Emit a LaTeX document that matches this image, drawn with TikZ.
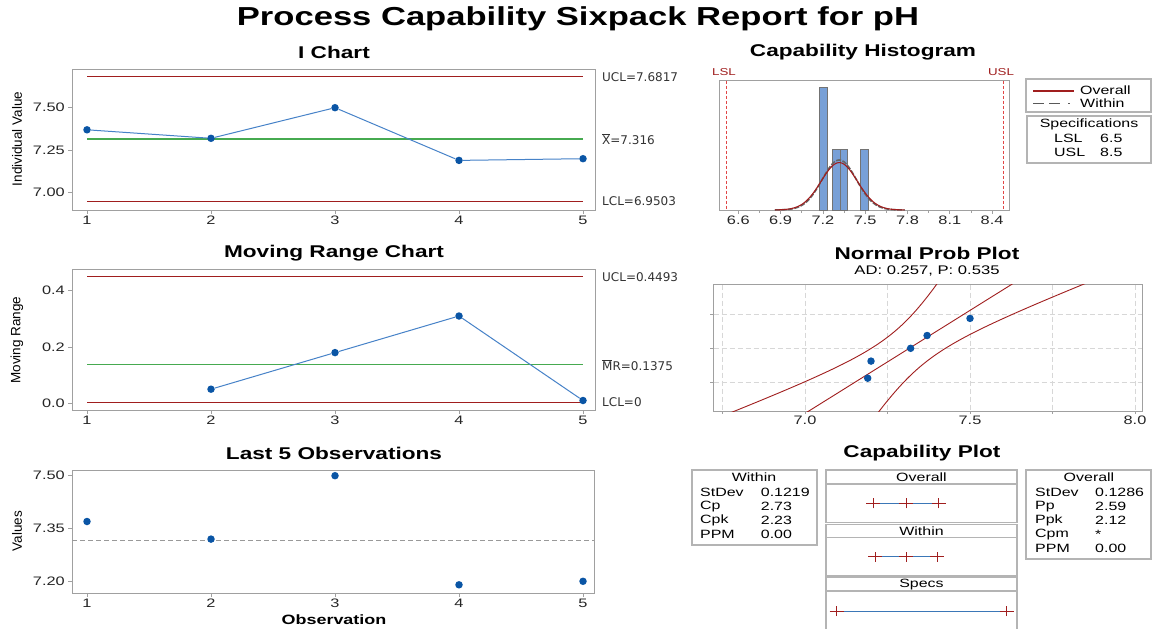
\documentclass[tikz,border=0pt]{standalone}
\usepackage{fontspec}
\setmainfont[FakeStretch=1.33]{Liberation Sans}
\newfontfamily\plainf{Liberation Sans}
\newfontfamily\lblf{DejaVu Sans}
\definecolor{limred}{RGB}{160,30,30}
\definecolor{clgreen}{RGB}{70,170,80}
\definecolor{dline}{RGB}{70,130,200}
\definecolor{dotblue}{RGB}{10,85,165}
\definecolor{barfill}{RGB}{120,160,215}
\definecolor{framegray}{RGB}{160,160,160}
\definecolor{boxgray}{RGB}{180,180,180}
\definecolor{specred}{RGB}{225,70,70}
\definecolor{gridgray}{RGB}{215,215,215}
\begin{document}
\begin{tikzpicture}[x=1pt,y=-1pt,
  frame/.style={draw=framegray,line width=0.9pt},
  ttl/.style={font=\fontsize{17}{20}\selectfont\bfseries, inner sep=0pt},
  tick/.style={font=\fontsize{12.3}{14}\selectfont, text=black!85, inner sep=0pt},
  lim/.style={font=\lblf\fontsize{12}{14}\selectfont, text=black!80, anchor=west, inner sep=0pt},
  ylab/.style={font=\plainf\fontsize{13.5}{15}\selectfont, rotate=90, inner sep=0pt},
  pt/.style={circle, fill=dotblue, inner sep=0pt, minimum size=7.5pt},
  ucl/.style={draw=limred, line width=1pt},
  cl/.style={draw=clgreen, line width=1.2pt},
  dl/.style={draw=dline, line width=1pt},
  tk/.style={draw=framegray, line width=0.8pt},
  box/.style={draw=boxgray, line width=1.1pt},
  st/.style={font=\fontsize{12}{14}\selectfont, inner sep=0pt, anchor=west},
  stc/.style={font=\fontsize{12}{14}\selectfont, inner sep=0pt},
  pl/.style={draw=limred, line width=0.9pt},
]
\useasboundingbox (0,0) rectangle (1152,629);
\fill[white] (0,0) rectangle (1152,629);

% main title
\node[font=\fontsize{26}{31}\selectfont\bfseries, inner sep=0pt] (title) at (578,19) {Process Capability Sixpack Report for pH};

% ================= I chart =================
\node[ttl] (ititle) at (334,52) {I Chart};
\draw[frame] (72,69) rectangle (595,210);
\foreach \y/\t [count=\k] in {107.7/7.50,150.7/7.25,192.7/7.00}{
  \draw[tk] (68,\y) -- (72,\y);
  \node[tick, anchor=east] (iy\k) at (65,\y) {\t};
}
\foreach \i in {1,...,5}{
  \draw[tk] ({87+(\i-1)*124},210) -- ({87+(\i-1)*124},214);
  \node[tick] (ix\i) at ({87+(\i-1)*124},220) {\i};
}
\draw[ucl] (87,76.8) -- (583,76.8);
\draw[cl] (87,139) -- (583,139);
\draw[ucl] (87,201.1) -- (583,201.1);
\node[lim] (iucl) at (602,77) {UCL=7.6817};
\node[lim] (icl) at (602,139) {\rlap{\rule[9.8pt]{7.5pt}{0.7pt}}X=7.316};
\node[lim] (ilcl) at (602,201) {LCL=6.9503};
\node[ylab] (iylab) at (17,139) {Individual Value};
\node[pt] (i1) at (87,129.8) {};
\node[pt] (i2) at (211,138.3) {};
\node[pt] (i3) at (335,107.7) {};
\node[pt] (i4) at (459,160.4) {};
\node[pt] (i5) at (583,158.7) {};
\draw[dl] (i1) -- (i2) -- (i3) -- (i4) -- (i5);

% ================= MR chart =================
\node[ttl] (mtitle) at (334,253) {Moving Range Chart};
\draw[frame] (72,269) rectangle (595,410);
\foreach \y/\t [count=\k] in {290.7/0.4,347/0.2,403.3/0.0}{
  \draw[tk] (68,\y) -- (72,\y);
  \node[tick, anchor=east] (my\k) at (65,\y) {\t};
}
\foreach \i in {1,...,5}{
  \draw[tk] ({87+(\i-1)*124},410) -- ({87+(\i-1)*124},414);
  \node[tick] (mx\i) at ({87+(\i-1)*124},420) {\i};
}
\draw[ucl] (87,276.8) -- (583,276.8);
\draw[cl] (87,364.6) -- (583,364.6);
\draw[ucl] (87,402.5) -- (583,402.5);
\node[lim] (mucl) at (602,277) {UCL=0.4493};
\node[lim] (mcl) at (602,365) {\rlap{\rule[9.8pt]{9.5pt}{0.7pt}}MR=0.1375};
\node[lim] (mlcl) at (602,402) {LCL=0};
\node[ylab] (mylab) at (17,340) {Moving Range};
\node[pt] (m2) at (211,389.2) {};
\node[pt] (m3) at (335,352.6) {};
\node[pt] (m4) at (459,316.0) {};
\node[pt] (m5) at (583,400.5) {};
\draw[dl] (m2) -- (m3) -- (m4) -- (m5);

% ================= Last 5 observations =================
\node[ttl] (ltitle) at (334,453) {Last 5 Observations};
\draw[frame] (72,470) rectangle (594,593);
\foreach \y/\t [count=\k] in {475.7/7.50,528.5/7.35,581.3/7.20}{
  \draw[tk] (68,\y) -- (72,\y);
  \node[tick, anchor=east] (ly\k) at (65,\y) {\t};
}
\foreach \i in {1,...,5}{
  \draw[tk] ({87+(\i-1)*124},593) -- ({87+(\i-1)*124},597);
  \node[tick] (lx\i) at ({87+(\i-1)*124},603) {\i};
}
\draw[draw=black!40, line width=1pt, dash pattern=on 5pt off 3pt] (72,540.5) -- (594,540.5);
\node[pt] (l1) at (87,521.5) {};
\node[pt] (l2) at (211,539.1) {};
\node[pt] (l3) at (335,475.7) {};
\node[pt] (l4) at (459,584.8) {};
\node[pt] (l5) at (583,581.3) {};
\node[ylab] (lylab) at (17,531) {Values};
\node[font=\fontsize{13.5}{15}\selectfont\bfseries, inner sep=0pt] (lxlab) at (334,620) {Observation};

% ================= Capability histogram =================
\node[ttl] (htitle) at (863,52) {Capability Histogram};
\draw[frame] (719,80) rectangle (1009,210);
\foreach \v [count=\k] in {6.6,6.9,7.2,7.5,7.8,8.1,8.4}{
  \draw[tk] ({738.3+(\v-6.6)*141},210) -- ({738.3+(\v-6.6)*141},214);
  \node[tick] (hx\k) at ({738.3+(\v-6.6)*141},220) {\v};
}
\foreach \v in {6.75,7.05,7.35,7.65,7.95,8.25}{
  \draw[tk] ({738.3+(\v-6.6)*141},210) -- ({738.3+(\v-6.6)*141},212.5);
}
\foreach \a/\b/\t in {819.3/827/87.7,832.3/840.3/149,840.3/847.3/149,860.3/868.7/149}{
  \filldraw[fill=barfill, draw=black!55, line width=0.8pt] (\a,210) rectangle (\b,\t);
}
\draw[draw=black!60, line width=1.6pt, dash pattern=on 5pt off 1.5pt] plot[domain=6.86:7.78, samples=80, variable=\v]
  ({738.3+(\v-6.6)*141},{210-50*exp(-0.5*((\v-7.316)/0.1219)*((\v-7.316)/0.1219))});
\draw[draw=limred, line width=1.1pt] plot[domain=6.86:7.78, samples=80, variable=\v]
  ({738.3+(\v-6.6)*141},{210-47.4*exp(-0.5*((\v-7.316)/0.1286)*((\v-7.316)/0.1286))});
\draw[draw=specred, line width=1pt, dash pattern=on 3pt off 2pt] (726,80.5) -- (726,209.5);
\draw[draw=specred, line width=1pt, dash pattern=on 3pt off 2pt] (1003,80.5) -- (1003,209.5);
\node[font=\fontsize{10}{12}\selectfont, text=limred, inner sep=0pt] (lsl) at (724,72) {LSL};
\node[font=\fontsize{10}{12}\selectfont, text=limred, inner sep=0pt] (usl) at (1001,72) {USL};

% legend
\draw[box] (1026,79) rectangle (1151,112);
\draw[draw=limred, line width=1.2pt] (1033,91) -- (1074,91);
\node[st] (legov) at (1080,90.5) {Overall};
\draw[draw=black!65, line width=1.2pt, dash pattern=on 11pt off 5pt on 11pt off 8pt on 2pt off 20pt] (1033,103.5) -- (1074,103.5);
\node[st] (legwi) at (1080,103.5) {Within};
\draw[box] (1027,116) rectangle (1151,163);
\node[stc] (spec) at (1089,124) {Specifications};
\node[st] (lsln) at (1054,138.5) {LSL};
\node[st] (lslv) at (1100,138.5) {6.5};
\node[st] (usln) at (1054,152.5) {USL};
\node[st] (uslv) at (1100,152.5) {8.5};

% ================= Normal prob plot =================
\node[ttl] (ntitle) at (927,253) {Normal Prob Plot};
\node[stc, font=\fontsize{12.5}{14}\selectfont] (nsub) at (927,271) {AD: 0.257, P: 0.535};
\foreach \v in {6.75,7.0,7.25,7.5,7.75,8.0}{
  \draw[draw=gridgray, line width=0.8pt, dash pattern=on 5pt off 3pt] ({805+(\v-7)*330},284.5) -- ({805+(\v-7)*330},410.5);
  \draw[tk] ({805+(\v-7)*330},411) -- ({805+(\v-7)*330},414);
}
\foreach \y in {314.3,348.3,382.3}{
  \draw[draw=gridgray, line width=0.8pt, dash pattern=on 5pt off 3pt] (713.5,\y) -- (1141.5,\y);
  \draw[tk] (710,\y) -- (713,\y);
}
\draw[frame] (713,284) rectangle (1142,411);
\foreach \v/\t [count=\k] in {7/7.0,7.5/7.5,8/8.0}{
  \node[tick] (nx\k) at ({805+(\v-7)*330},420) {\t};
}
\begin{scope}
\clip (713,284) rectangle (1142,411);
\draw[draw=limred, line width=0.9pt] plot[domain=-2.7:2.7, samples=60, variable=\t]
  ({805+(0.316+0.1286*\t-0.2572*sqrt((1+\t*\t/2)/5))*330},{348.3-26.5*\t});
\draw[draw=limred, line width=0.9pt] plot[domain=-2.7:2.7, samples=60, variable=\t]
  ({805+(0.316+0.1286*\t+0.245*sqrt((1+\t*\t/2)/5))*330},{348.3-26.5*\t});
\draw[draw=limred, line width=0.9pt] ({805+(0.316-0.1286*2.5)*330},{348.3+26.5*2.5}) -- ({805+(0.316+0.1286*2.5)*330},{348.3-26.5*2.5});
\end{scope}
\node[pt] (n1) at (867.7,378.2) {};
\node[pt] (n2) at (871,361.1) {};
\node[pt] (n3) at (910.6,348.3) {};
\node[pt] (n4) at (927.1,335.5) {};
\node[pt] (n5) at (970,318.4) {};

% ================= Capability plot =================
\node[ttl] (ctitle) at (922,453) {Capability Plot};
% within stats
\draw[box] (692,470) rectangle (817,545);
\node[stc] (cwt) at (754,477.5) {Within};
\foreach \a/\b/\y [count=\k] in {StDev/0.1219/492.3,Cp/2.73/506.7,Cpk/2.23/520.7,PPM/0.00/534.7}{
  \node[st] (cwl\k) at (700,\y) {\a};
  \node[st] (cwv\k) at (760.7,\y) {\b};
}
% overall stats
\draw[box] (1026,470) rectangle (1151,559);
\node[stc] (cot) at (1089,477.5) {Overall};
\foreach \a/\b/\y [count=\k] in {StDev/0.1286/492.3,Pp/2.59/506.7,Ppk/2.12/520.7,Cpm/*/534.7,PPM/0.00/548.3}{
  \node[st] (col\k) at (1035,\y) {\a};
  \node[st] (cov\k) at (1095,\y) {\b};
}
% middle panels
\draw[box] (826,470) rectangle (1017,484);
\node[stc] (pho) at (921.5,477) {Overall};
\draw[box] (826,484) rectangle (1017,522.7);
\draw[box] (826,524.5) rectangle (1017,537.7);
\node[stc] (phw) at (921.5,531) {Within};
\draw[box] (826,537.7) rectangle (1017,576);
\draw[box] (826,577.5) rectangle (1017,591);
\node[stc] (phs) at (921.5,584.2) {Specs};
\draw[box] (826,631) -- (826,591) -- (1017,591) -- (1017,631);
% intervals
\coordinate (oa) at (873.2,503.3); \coordinate (om) at (906.1,503.3); \coordinate (ob) at (938.9,503.3);
\coordinate (wa) at (875,556.7); \coordinate (wm) at (906.1,556.7); \coordinate (wb) at (937.2,556.7);
\coordinate (sa) at (836.7,611); \coordinate (sb) at (1006.7,611);
\draw[draw=dotblue!80!white, line width=1pt] (oa) -- (ob);
\draw[draw=dotblue!80!white, line width=1pt] (wa) -- (wb);
\draw[draw=dotblue!80!white, line width=1pt] (sa) -- (sb);
\foreach \c in {oa,om,ob,wa,wm,wb,sa,sb}{
  \draw[pl] ([xshift=-7pt]\c) -- ([xshift=7pt]\c);
  \draw[pl] ([yshift=-5pt]\c) -- ([yshift=5pt]\c);
}
\end{tikzpicture}
\end{document}
